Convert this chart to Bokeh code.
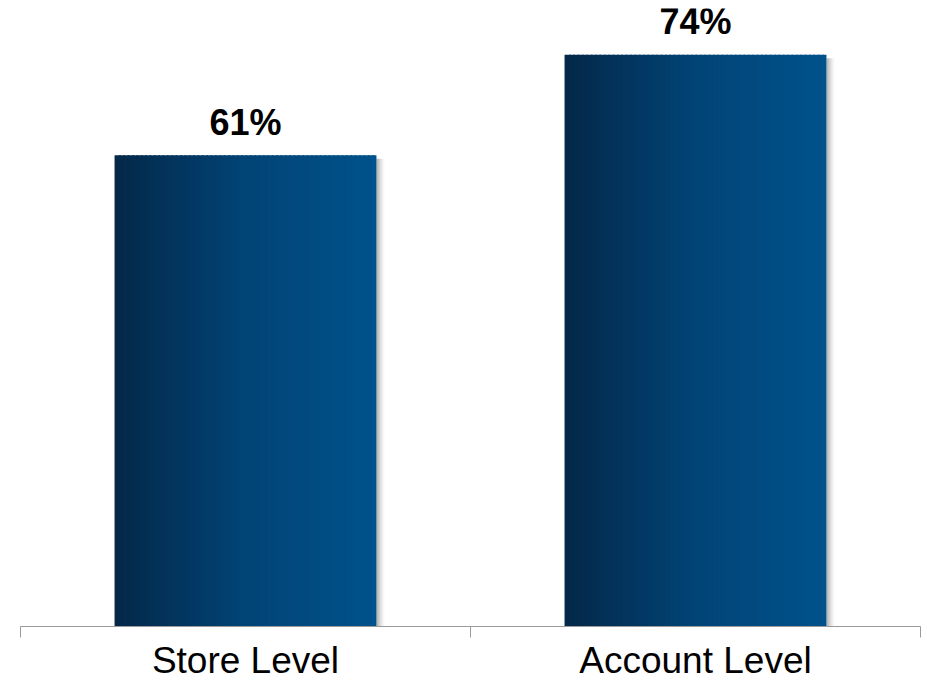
import numpy as np
from bokeh.plotting import figure
from bokeh.models import FixedTicker, Range1d, ColumnDataSource
from bokeh.core.properties import value
from bokeh.embed import file_html
from bokeh.resources import INLINE

# ---- data ----
categories = ["Store Level", "Account Level"]
values = [61, 74]
value_labels = ["61%", "74%"]

positions = [0.5, 1.5]       # category centres on a 0..2 axis
boundaries = [0, 1, 2]       # tick marks between categories
bar_width = 0.582

# gradient stops (fraction across bar, rgb)
grad_stops = [(0.0, (4, 40, 72)), (0.5, (1, 68, 118)), (1.0, (0, 82, 140))]

def grad_color(t):
    for (t0, c0), (t1, c1) in zip(grad_stops[:-1], grad_stops[1:]):
        if t0 <= t <= t1:
            f = (t - t0) / (t1 - t0)
            c = [int(round(a + (b - a) * f)) for a, b in zip(c0, c1)]
            return "#%02x%02x%02x" % tuple(c)
    return "#%02x%02x%02x" % grad_stops[-1][1]

p = figure(width=923, height=687,
           x_range=Range1d(0, 2), y_range=Range1d(0, 80),
           output_backend="svg", toolbar_location=None,
           y_axis_location=None,
           min_border_left=20, min_border_right=3, min_border_top=8,
           min_border_bottom=61)
p.outline_line_color = None
p.grid.visible = False
p.background_fill_color = "white"

# ---- shadows ----
n_sh = 8
sh_w = 0.0185
L, R, T, B, A = [], [], [], [], []
for pos, v in zip(positions, values):
    xr = pos + bar_width / 2
    for i in range(n_sh):
        L.append(xr + sh_w * i / n_sh)
        R.append(xr + sh_w * (i + 1) / n_sh)
        T.append(v - 0.45)
        B.append(0)
        A.append(0.32 * (1 - i / n_sh) ** 1.5)
p.quad(left=L, right=R, top=T, bottom=B, fill_color="black", fill_alpha=A, line_color=None)

# ---- gradient bars ----
n_strips = 60
overlap = 0.004
L, R, T, B, C = [], [], [], [], []
for pos, v in zip(positions, values):
    x0 = pos - bar_width / 2
    x1 = pos + bar_width / 2
    for i in range(n_strips):
        L.append(x0 + bar_width * i / n_strips)
        R.append(min(x0 + bar_width * (i + 1) / n_strips + overlap, x1))
        T.append(v)
        B.append(0)
        C.append(grad_color((i + 0.5) / n_strips))
p.quad(left=L, right=R, top=T, bottom=B, fill_color=C, line_color=None)

# ---- value labels ----
src = ColumnDataSource(dict(x=positions, y=values, t=value_labels))
p.text(x="x", y="y", text="t", source=src, text_align="center", text_baseline="alphabetic",
       y_offset=-33, text_font=value("Liberation Sans"), text_font_style="bold",
       text_font_size="36px", text_color="black")

# ---- axis ----
ax = p.xaxis[0]
ax.ticker = FixedTicker(ticks=positions, minor_ticks=boundaries)
ax.major_label_overrides = {pos: cat for pos, cat in zip(positions, categories)}
ax.major_tick_out = 0
ax.major_tick_in = 0
ax.minor_tick_out = 11
ax.minor_tick_in = 0
ax.minor_tick_line_color = "#9a9a9a"
ax.axis_line_color = "#9a9a9a"
ax.axis_line_width = 1.2
ax.major_label_text_font = "Liberation Sans"
ax.major_label_text_font_size = "37px"
ax.major_label_text_color = "black"
ax.major_label_standoff = 2

open("out.html", "w").write(file_html(p, INLINE))
